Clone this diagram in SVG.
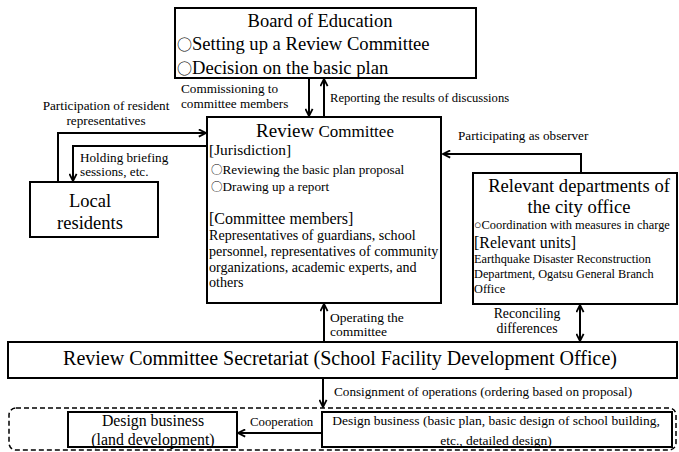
<svg xmlns="http://www.w3.org/2000/svg" width="679" height="452" viewBox="0 0 679 452" font-family="'Liberation Serif', 'Times New Roman', Times, serif">
<defs>
<marker id="ah" viewBox="0 0 10 10" refX="9" refY="5" markerWidth="9" markerHeight="9" markerUnits="userSpaceOnUse" orient="auto-start-reverse">
<path d="M1,1 L9,5 L1,9" fill="none" stroke="#000" stroke-width="2"/>
</marker>
<style>
text{font-family:'Liberation Serif','Times New Roman',Times,serif;fill:#000}
.o{font-family:'Noto Sans CJK JP','Liberation Serif',serif}
.box{fill:#fff;stroke:#000;stroke-width:2}
.ln{fill:none;stroke:#000;stroke-width:2}
.c{text-anchor:middle}
.s{font-size:13.2px}
.m{font-size:16px}
.r{font-size:14.1px}
</style>
</defs>
<rect width="679" height="452" fill="#fff"/>
<g id="connectors">
<line class="ln" x1="309" y1="78" x2="309" y2="116" marker-end="url(#ah)"/>
<line class="ln" x1="324" y1="117" x2="324" y2="79" marker-end="url(#ah)"/>
<polyline class="ln" points="58,182 58,133 206,133" marker-end="url(#ah)"/>
<polyline class="ln" points="207,146 73,146 73,181" marker-end="url(#ah)"/>
<polyline class="ln" points="581,173 581,154 443,154" marker-end="url(#ah)"/>
<line class="ln" x1="324" y1="342" x2="324" y2="304" marker-end="url(#ah)"/>
<line class="ln" x1="580" y1="305" x2="580" y2="341" marker-start="url(#ah)" marker-end="url(#ah)"/>
<line class="ln" x1="323" y1="378" x2="323" y2="407" marker-end="url(#ah)"/>
<line class="ln" x1="322" y1="433" x2="238" y2="433" marker-end="url(#ah)"/>
<text class="s" x="181" y="93">Commissioning to</text>
<text class="s" x="181" y="108">committee members</text>
<text x="330" y="102" font-size="12.6">Reporting the results of discussions</text>
<text class="s c" x="106" y="110">Participation of resident</text>
<text class="s c" x="106" y="125">representatives</text>
<text class="s" x="80" y="162">Holding briefing</text>
<text class="s" x="80" y="176">sessions, etc.</text>
<text class="s" x="458" y="140">Participating as observer</text>
<text x="330" y="322" font-size="13.5">Operating the</text>
<text x="330" y="336" font-size="13.5">committee</text>
<text class="c" x="527" y="318" font-size="13.8">Reconciling</text>
<text class="c" x="527" y="333" font-size="13.8">differences</text>
<text class="s" x="334" y="396">Consignment of operations (ordering based on proposal)</text>
<text x="250" y="426" font-size="12.8">Cooperation</text>
</g>
<g id="board">
<rect class="box" x="175" y="8" width="301" height="70"/>
<text class="c" x="320" y="27" font-size="18.5">Board of Education</text>
<text x="177" y="50" font-size="18.6"><tspan class="o" font-size="15">○</tspan>Setting up a Review Committee</text>
<text x="177" y="74" font-size="18.6"><tspan class="o" font-size="15">○</tspan>Decision on the basic plan</text>
</g>
<g id="review">
<rect class="box" x="207" y="117" width="234" height="186"/>
<text class="c" x="325" y="137"><tspan font-size="19">Review</tspan><tspan font-size="17"> Committee</tspan></text>
<text x="209" y="155" font-size="15.4">[Jurisdiction]</text>
<text class="s" x="211" y="174"><tspan class="o" font-size="11.5">○</tspan>Reviewing the basic plan proposal</text>
<text class="s" x="211" y="191"><tspan class="o" font-size="11.5">○</tspan>Drawing up a report</text>
<text class="m" x="209" y="224">[Committee members]</text>
<text class="r" x="209" y="240">Representatives of guardians, school</text>
<text class="r" x="209" y="256">personnel, representatives of community</text>
<text class="r" x="209" y="272">organizations, academic experts, and</text>
<text class="r" x="209" y="287">others</text>
</g>
<g id="residents">
<rect class="box" x="30" y="182" width="128" height="55"/>
<text class="c" x="90" y="207" font-size="18.5">Local</text>
<text class="c" x="90" y="229" font-size="18.5">residents</text>
</g>
<g id="city">
<rect class="box" x="473" y="173" width="204" height="131"/>
<text class="c" x="579" y="192" font-size="18.6">Relevant departments of</text>
<text class="c" x="579" y="213" font-size="18.6">the city office</text>
<text x="474" y="229" font-size="12.4">○Coordination with measures in charge</text>
<text x="474" y="248" font-size="15.9">[Relevant units]</text>
<text x="474" y="263" font-size="12.3">Earthquake Disaster Reconstruction</text>
<text x="474" y="278" font-size="12.3">Department, Ogatsu General Branch</text>
<text x="474" y="293" font-size="12.3">Office</text>
</g>
<g id="secretariat">
<rect class="box" x="8" y="342" width="669" height="36"/>
<text class="c" x="340" y="365" font-size="20">Review Committee Secretariat (School Facility Development Office)</text>
</g>
<g id="design-group">
<rect x="9" y="408" width="667" height="42" rx="7" fill="none" stroke="#000" stroke-width="1.5" stroke-dasharray="5,3"/>
</g>
<g id="design-land">
<rect class="box" x="68" y="412" width="169" height="35"/>
<text class="c" x="153" y="426" font-size="15.8">Design business</text>
<text class="c" x="153" y="445" font-size="15.8">(land development)</text>
</g>
<g id="design-main">
<rect class="box" x="322" y="412" width="350" height="35"/>
<text class="c" x="496" y="425" font-size="13.5">Design business (basic plan, basic design of school building,</text>
<text class="c" x="496" y="445" font-size="13.5">etc., detailed design)</text>
</g>
</svg>
